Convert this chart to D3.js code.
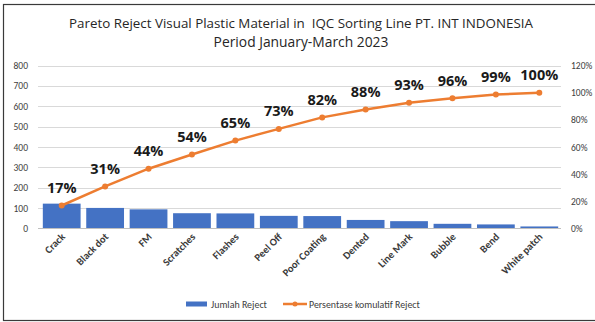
<!DOCTYPE html>
<html>
<head>
<meta charset="utf-8">
<script src="https://cdn.jsdelivr.net/npm/d3@7"></script>
<style>
  html, body { margin: 0; padding: 0; background: #fff; }
  svg { display: block; }
</style>
</head>
<body>
<svg id="chart" width="595" height="322"></svg>
<script>
// Reject counts per defect type, sorted for the Pareto view
const categories = ["Crack", "Black dot", "FM", "Scratches", "Flashes", "Peel Off",
  "Poor Coating", "Dented", "Line Mark", "Bubble", "Bend", "White patch"];
const rejects = [122, 101, 94, 75, 74, 62, 61, 42, 36, 23, 20, 10];
const leftTicks = [0, 100, 200, 300, 400, 500, 600, 700, 800];
const rightTicks = [0, 0.2, 0.4, 0.6, 0.8, 1.0, 1.2];
const titleLines = ["Pareto Reject Visual Plastic Material in  IQC Sorting Line PT. INT INDONESIA",
  "Period January-March 2023"];
const legendLabels = ["Jumlah Reject", "Persentase komulatif Reject"];

const total = d3.sum(rejects);
const cumulative = d3.cumsum(rejects).map(v => v / total);

const svg = d3.select("#chart");
const font = "Calibri, Carlito, 'Open Sans', Lato, sans-serif";
const BLUE = "#4472C4", ORANGE = "#ED7D31";

// Scale a text element's font size so it spans the given width
function fitWidth(el, size, width) {
  el.attr("font-size", size);
  const w = el.node().getComputedTextLength();
  el.attr("font-size", size * width / w);
}

// Outer frame
svg.append("rect").attr("x", 3.5).attr("y", 4.5).attr("width", 600).attr("height", 316)
  .attr("fill", "none").attr("stroke", "#3a3a3a").attr("stroke-width", 1.2);

const plot = { left: 40, right: 561, top: 65.5, bottom: 228.5 };

const x = d3.scaleBand().domain(categories).range([plot.left, plot.right]).paddingInner(0.13).paddingOuter(0.065);
const y = d3.scaleLinear().domain([0, 800]).range([plot.bottom, plot.top]);
const y2 = d3.scaleLinear().domain([0, 1.2]).range([plot.bottom, plot.top]);

// Title
const titleWidths = [464, 175];
titleLines.forEach((t, i) => {
  const el = svg.append("text").attr("x", 301).attr("y", 27.5 + i * 19.5)
    .attr("text-anchor", "middle").attr("font-family", "'Open Sans', sans-serif")
    .style("white-space", "pre").attr("fill", "#262626").text(t);
  fitWidth(el, 14, titleWidths[i]);
});

// Gridlines
svg.append("g").selectAll("line").data(leftTicks.slice(1)).join("line")
  .attr("x1", plot.left - 2).attr("x2", plot.right)
  .attr("y1", d => Math.round(y(d)) + 0.5).attr("y2", d => Math.round(y(d)) + 0.5)
  .attr("stroke", "#d9d9d9").attr("stroke-width", 1);

// Left axis
const leftAxis = svg.append("g").attr("transform", `translate(${plot.left - 2},0)`)
  .call(d3.axisLeft(y).tickValues(leftTicks).tickSize(0).tickPadding(10));
leftAxis.select(".domain").remove();
leftAxis.selectAll("text").attr("font-family", font).attr("font-size", 9.5).attr("fill", "#404040");

// Right axis
const rightAxis = svg.append("g").attr("transform", `translate(${plot.right},0)`)
  .call(d3.axisRight(y2).tickValues(rightTicks).tickFormat(d3.format(".0%")).tickSize(0).tickPadding(10));
rightAxis.select(".domain").remove();
rightAxis.selectAll("text").attr("font-family", font).attr("font-size", 9.5).attr("fill", "#404040");

// Bars
svg.append("g").selectAll("rect").data(rejects).join("rect")
  .attr("x", (d, i) => x(categories[i]))
  .attr("width", x.bandwidth())
  .attr("y", d => y(d))
  .attr("height", d => y(0) - y(d))
  .attr("fill", BLUE);

// Baseline
svg.append("line").attr("x1", plot.left - 2).attr("x2", plot.right)
  .attr("y1", plot.bottom).attr("y2", plot.bottom)
  .attr("stroke", "#bfbfbf").attr("stroke-width", 1);

// Category labels
const cx = i => x(categories[i]) + x.bandwidth() / 2;
svg.append("g").selectAll("text").data(categories).join("text")
  .attr("transform", (d, i) => `translate(${cx(i) + 4},${plot.bottom + 9}) rotate(-45)`)
  .attr("text-anchor", "end").attr("font-family", font).attr("font-size", 10.5)
  .attr("font-weight", "bold").attr("fill", "#3a3a3a").text(d => d);

// Cumulative line
const line = d3.line().x((d, i) => cx(i)).y(d => y2(d));
svg.append("path").datum(cumulative).attr("d", line)
  .attr("fill", "none").attr("stroke", ORANGE).attr("stroke-width", 2.5).attr("stroke-linejoin", "round");
svg.append("g").selectAll("circle").data(cumulative).join("circle")
  .attr("cx", (d, i) => cx(i)).attr("cy", d => y2(d)).attr("r", 3).attr("fill", ORANGE);

// Percentage labels
svg.append("g").selectAll("text").data(cumulative).join("text")
  .attr("x", (d, i) => cx(i)).attr("y", d => y2(d) - 12.5)
  .attr("text-anchor", "middle").attr("font-family", "'Open Sans', sans-serif").attr("font-size", 14.5)
  .attr("font-weight", "bold").attr("fill", "#1a1a1a").text(d => d3.format(".0%")(d));

// Legend
const lg = svg.append("g").attr("font-family", font).attr("fill", "#404040");
lg.append("rect").attr("x", 186).attr("y", 301.5).attr("width", 21).attr("height", 5).attr("fill", BLUE);
fitWidth(lg.append("text").attr("x", 211).attr("y", 307.5).text(legendLabels[0]), 10, 56);
lg.append("line").attr("x1", 283).attr("x2", 307).attr("y1", 304).attr("y2", 304)
  .attr("stroke", ORANGE).attr("stroke-width", 2.5);
lg.append("circle").attr("cx", 295).attr("cy", 304).attr("r", 2.5).attr("fill", ORANGE);
fitWidth(lg.append("text").attr("x", 309).attr("y", 307.5).text(legendLabels[1]), 10, 111);
</script>
</body>
</html>
